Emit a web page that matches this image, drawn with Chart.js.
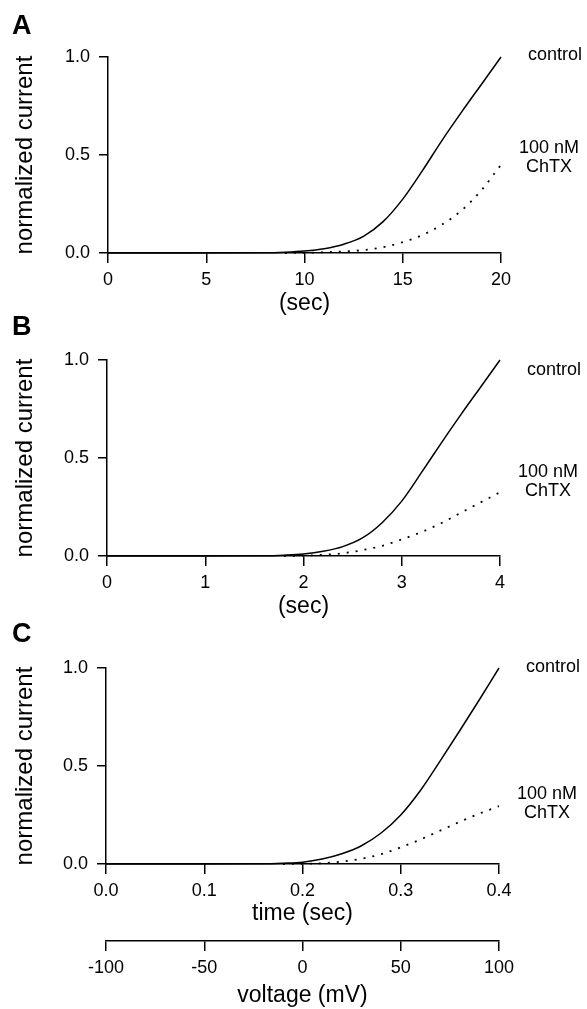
<!DOCTYPE html>
<html>
<head>
<meta charset="utf-8">
<script src="https://cdn.jsdelivr.net/npm/chart.js@4.4.0/dist/chart.umd.min.js"></script>
<style>
  html, body { margin: 0; padding: 0; background: #fff; }
  #wrap { position: relative; width: 587px; height: 1009px; overflow: hidden; background: #fff; }
  canvas { position: absolute; left: 0; display: block; }
</style>
</head>
<body>
<div id="wrap">
  <canvas id="chartA" width="587" height="317" style="top:0px"></canvas>
  <canvas id="chartB" width="587" height="320" style="top:300px"></canvas>
  <canvas id="chartC" width="587" height="409" style="top:600px"></canvas>
</div>
<script>
// panel A: 0-20 sec ramp
const timeA = [0, 4, 8, 9, 10, 11, 12, 13, 14, 15, 16, 17, 18, 19, 20];
const controlA = [0, 0, 0.001, 0.004, 0.01, 0.022, 0.045, 0.085, 0.16, 0.275, 0.42, 0.575, 0.72, 0.86, 1.0];
const chtxTimeA = [9, 10, 11, 12, 13, 14, 15, 16, 17, 18, 19, 20];
const chtxA = [0, 0.001, 0.004, 0.008, 0.015, 0.03, 0.055, 0.092, 0.145, 0.218, 0.32, 0.45];
const ticksA = [0, 5, 10, 15, 20];

// panel B: 0-4 sec ramp
const timeB = [0, 1, 1.6, 1.8, 2.0, 2.2, 2.4, 2.6, 2.8, 3.0, 3.2, 3.4, 3.6, 3.8, 4.0];
const controlB = [0, 0, 0.001, 0.004, 0.01, 0.024, 0.048, 0.092, 0.17, 0.28, 0.425, 0.575, 0.72, 0.86, 1.0];
const chtxTimeB = [1.8, 2.0, 2.2, 2.4, 2.6, 2.8, 3.0, 3.2, 3.4, 3.6, 3.8, 4.0];
const chtxB = [0, 0.002, 0.006, 0.014, 0.03, 0.052, 0.085, 0.122, 0.167, 0.22, 0.273, 0.325];
const ticksB = [0, 1, 2, 3, 4];

// panel C: 0-0.4 sec ramp
const timeC = [0, 0.1, 0.16, 0.18, 0.2, 0.22, 0.24, 0.26, 0.28, 0.30, 0.32, 0.34, 0.36, 0.38, 0.40];
const controlC = [0, 0, 0.001, 0.004, 0.009, 0.025, 0.052, 0.093, 0.158, 0.25, 0.375, 0.525, 0.68, 0.838, 1.0];
const chtxTimeC = [0.18, 0.2, 0.22, 0.24, 0.26, 0.28, 0.30, 0.32, 0.34, 0.36, 0.38, 0.40];
const chtxC = [0, 0.001, 0.004, 0.012, 0.027, 0.05, 0.085, 0.125, 0.17, 0.215, 0.257, 0.295];
const ticksC = [0, 0.1, 0.2, 0.3, 0.4];

const voltageTicks = [-100, -50, 0, 50, 100];
const currentTicks = [0, 0.5, 1.0];
const seriesNames = ['control', ['100 nM', 'ChTX']];

const ink = '#000';
const family = '"Liberation Sans", Arial, Helvetica, sans-serif';
Chart.defaults.color = ink;
Chart.defaults.font.family = family;

function fixTicks(values) {
  return scale => { scale.ticks = values.map(v => ({ value: v })); };
}

function xScale(values, fmt, title, height, titlePad, weight) {
  return {
    type: 'linear',
    position: 'bottom',
    weight: weight,
    min: values[0],
    max: values[values.length - 1],
    afterBuildTicks: fixTicks(values),
    afterFit: s => { s.height = height; },
    grid: { drawOnChartArea: false, drawTicks: true, tickLength: 10, color: ink, lineWidth: 1.5 },
    border: { display: true, color: ink, width: 1.5 },
    ticks: { font: { size: 18 }, padding: 6, maxRotation: 0, callback: v => fmt(v) },
    title: { display: true, text: title, font: { size: 23 }, padding: { top: 0, bottom: titlePad } }
  };
}

function yScale(width) {
  return {
    type: 'linear',
    min: 0,
    max: 1,
    afterBuildTicks: fixTicks(currentTicks),
    afterFit: s => { s.width = width; },
    grid: { drawOnChartArea: false, drawTicks: true, tickLength: 9, color: ink, lineWidth: 1.5 },
    border: { display: true, color: ink, width: 1.5 },
    ticks: { font: { size: 18 }, padding: 9, callback: v => v.toFixed(1) },
    title: { display: true, text: 'normalized current', font: { size: 24 }, padding: { top: 11, bottom: 0 } }
  };
}

function points(xs, ys) {
  return xs.map((x, i) => ({ x: x, y: ys[i] }));
}

// panel letter and the curve names at the right end
const panelText = {
  id: 'panelText',
  afterDraw(chart, args, o) {
    const ctx = chart.ctx;
    const right = chart.chartArea.right;
    ctx.save();
    ctx.fillStyle = ink;
    ctx.textBaseline = 'middle';
    ctx.textAlign = 'left';
    ctx.font = 'bold 27px ' + family;
    ctx.fillText(o.letter, 12, o.letterY);
    ctx.font = '18px ' + family;
    ctx.textAlign = 'center';
    ctx.fillText(seriesNames[0], right + 54, o.controlY);
    seriesNames[1].forEach((t, i) => ctx.fillText(t, right + 48, o.chtxY + i * 19));
    ctx.restore();
  }
};

function makePanel(id, cfg) {
  const scales = { x: xScale(cfg.ticks, cfg.fmt, cfg.xTitle, cfg.xHeight, cfg.xTitlePad, 0), y: yScale(cfg.yWidth) };
  if (cfg.voltage) {
    scales.xv = xScale(voltageTicks, v => String(v), 'voltage (mV)', 68, 0, 1);
  }
  new Chart(document.getElementById(id), {
    type: 'line',
    data: {
      datasets: [{
        label: seriesNames[0],
        data: points(cfg.time, cfg.control),
        borderColor: ink,
        borderWidth: 1.5,
        pointRadius: 0,
        cubicInterpolationMode: 'monotone',
        clip: false
      }, {
        label: seriesNames[1].join(' '),
        data: points(cfg.chtxTime, cfg.chtx),
        borderColor: ink,
        borderWidth: 1.8,
        borderDash: [2, 7],
        pointRadius: 0,
        cubicInterpolationMode: 'monotone',
        clip: false
      }]
    },
    options: {
      responsive: false,
      animation: false,
      layout: { padding: { top: cfg.top, left: 0, right: cfg.right, bottom: 0 } },
      scales: scales,
      plugins: {
        legend: { display: false },
        tooltip: { enabled: false },
        panelText: { letter: cfg.letter, letterY: cfg.letterY, controlY: cfg.controlY, chtxY: cfg.chtxY }
      }
    },
    plugins: [panelText]
  });
}

makePanel('chartA', {
  time: timeA, control: controlA, chtxTime: chtxTimeA, chtx: chtxA,
  ticks: ticksA, fmt: v => String(v), xTitle: '(sec)', xHeight: 64, xTitlePad: 0,
  yWidth: 108, top: 57, right: 86,
  letter: 'A', letterY: 27, controlY: 55, chtxY: 148
});

makePanel('chartB', {
  time: timeB, control: controlB, chtxTime: chtxTimeB, chtx: chtxB,
  ticks: ticksB, fmt: v => String(v), xTitle: '(sec)', xHeight: 64, xTitlePad: 0,
  yWidth: 107, top: 60, right: 87,
  letter: 'B', letterY: 28, controlY: 70, chtxY: 172
});

makePanel('chartC', {
  time: timeC, control: controlC, chtxTime: chtxTimeC, chtx: chtxC,
  ticks: ticksC, fmt: v => v.toFixed(1), xTitle: 'time (sec)', xHeight: 77, xTitlePad: 14,
  yWidth: 106, top: 68, right: 88, voltage: true,
  letter: 'C', letterY: 35, controlY: 67, chtxY: 194
});
</script>
</body>
</html>
